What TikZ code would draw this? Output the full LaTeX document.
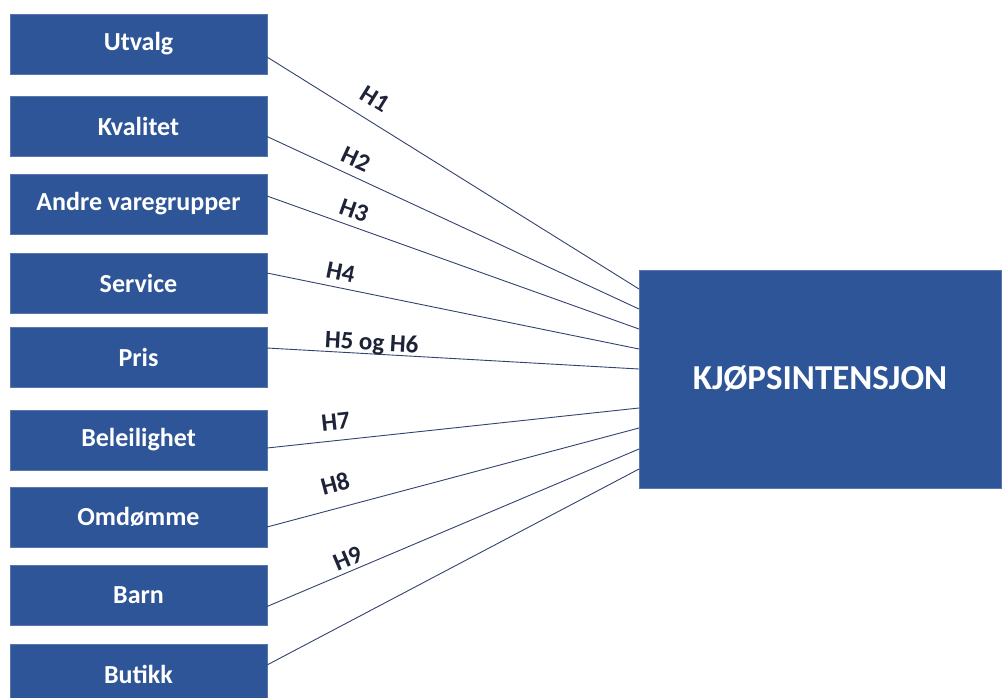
\documentclass[tikz,border=0pt]{standalone}
\usepackage{fontspec}
\setmainfont{Carlito}
\definecolor{boxblue}{RGB}{46,85,151}
\definecolor{linkline}{RGB}{52,66,112}
\definecolor{labtext}{RGB}{30,35,55}
\begin{document}
\begin{tikzpicture}[x=1pt,y=-1pt,
  factor/.style={fill=boxblue,draw=boxblue!80!white,line width=0.5pt,inner sep=0pt,outer sep=0pt,
    minimum width=257pt,minimum height=60pt,anchor=north west,text=white,
    font=\bfseries\fontsize{26}{30}\selectfont},
  target/.style={fill=boxblue,draw=boxblue!80!white,line width=0.5pt,inner sep=0pt,outer sep=0pt,
    minimum width=362pt,minimum height=218pt,anchor=north west,text=white,
    font=\bfseries\fontsize{35}{40}\selectfont},
  link/.style={draw=linkline,line width=0.9pt},
  hyp/.style={sloped,inner sep=0pt,text depth=0pt,text=labtext,font=\bfseries\fontsize{25}{30}\selectfont}]
\path[use as bounding box] (0,0) rectangle (1003,697);
\path[fill=white,draw=none] (0,0) rectangle (1003,697);
% factors
\node[factor] (utvalg) at (10,14) {Utvalg};
\node[factor] (kvalitet) at (10,96) {Kvalitet};
\node[factor] (andre) at (10,174) {Andre varegrupper};
\node[factor] (service) at (10,253) {Service};
\node[factor] (pris) at (10,327) {Pris};
\node[factor] (beleilighet) at (10,410) {Beleilighet};
\node[factor] (omdomme) at (10,487) {Omdømme};
\node[factor] (barn) at (10,565) {Barn};
\node[factor] (butikk) at (10,644) {Butikk};
% outcome
\node[target] (kjop) at (639,270) {KJØPSINTENSJON};
% hypotheses
\foreach \src/\a/\b/\lab/\p/\g in {utvalg/-13/90/H1/.26/13, kvalitet/-10.5/70/H2/.22/8, andre/8/50/H3/.22/7,
    service/10/30/H4/.19/7, pris/9/10/H5 og H6/.28/3, beleilighet/-8/-29/H7/.19/10,
    omdomme/-10/-49/H8/.2/15, barn/-11.5/-70/H9/.23/4}
  \draw[link] ([yshift=\a pt]\src.east) -- node[hyp,above=\g pt,pos=\p] {\lab} ([yshift=\b pt]kjop.west);
\draw[link] ([yshift=9pt]butikk.east) -- ([yshift=-90pt]kjop.west);
\end{tikzpicture}
\end{document}
